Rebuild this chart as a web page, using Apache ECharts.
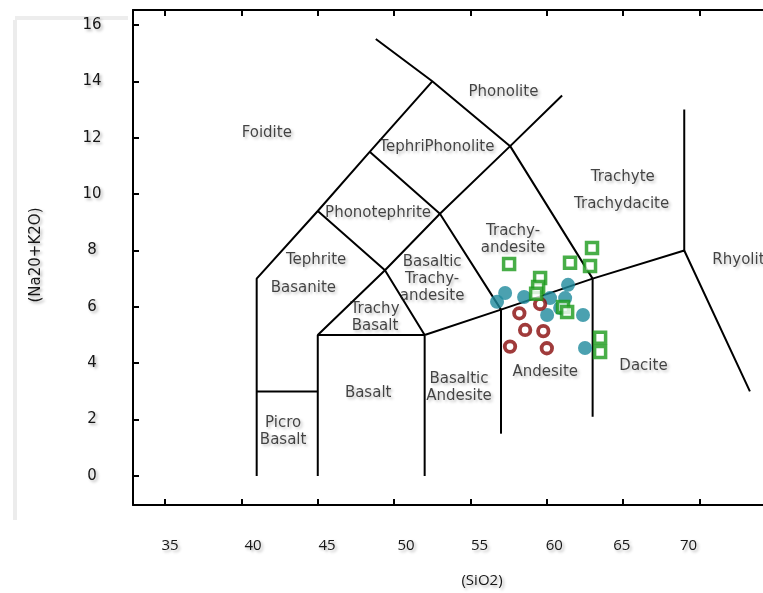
<!DOCTYPE html>
<html>
<head>
<meta charset="utf-8">
<script src="https://cdn.jsdelivr.net/npm/echarts@6/dist/echarts.min.js"></script>
<style>html,body{margin:0;padding:0;background:#fff;}#c{width:763px;height:593px;}</style>
</head>
<body>
<div id="c"></div>
<script>
// ---- data ----
const xTicks = [35, 40, 45, 50, 55, 60, 65, 70, 75];
const yTicks = [0, 2, 4, 6, 8, 10, 12, 14, 16];

// TAS field boundaries (SiO2, Na2O+K2O)
const boundaryLines = [
  [[41, 0], [41, 7], [45, 9.4], [48.4, 11.5], [52.5, 14]],
  [[41, 3], [45, 3]],
  [[45, 0], [45, 5], [52, 5]],
  [[52, 0], [52, 5], [57, 5.9], [63, 7], [69, 8], [73.3, 3]],
  [[57, 1.5], [57, 5.9]],
  [[63, 2.1], [63, 7]],
  [[45, 5], [49.4, 7.3], [53, 9.3], [57.6, 11.7], [61, 13.5]],
  [[45, 9.4], [49.4, 7.3], [52, 5]],
  [[48.4, 11.5], [53, 9.3], [57, 5.9]],
  [[48.8, 15.5], [52.5, 14], [57.6, 11.7], [63, 7]],
  [[69, 8], [69, 13]]
];

const regionNames = ['Foidite', 'Phonolite', 'TephriPhonolite', 'Phonotephrite', 'Tephrite', 'Basanite',
  'Trachy\nBasalt', 'Basaltic\nTrachy-\nandesite', 'Trachy-\nandesite', 'Trachyte', 'Trachydacite',
  'Rhyolite', 'Dacite', 'Andesite', 'Basaltic\nAndesite', 'Basalt', 'Picro\nBasalt'];
const regionX = [41.66, 57.16, 52.8, 48.95, 44.89, 44.06, 48.75, 52.49, 57.79, 64.97, 64.9, 72.85, 66.33, 59.9, 54.25, 48.3, 42.73];
const regionY = [12.18, 13.63, 11.66, 9.34, 7.66, 6.66, 5.6, 6.99, 8.37, 10.6, 9.64, 7.66, 3.9, 3.69, 3.12, 2.95, 1.57];

const redSiO2 = [59.56, 58.20, 58.58, 59.77, 57.59, 60.0];
const redAlk  = [6.10, 5.77, 5.18, 5.14, 4.59, 4.53];

const tealSiO2 = [56.74, 57.27, 58.51, 60.21, 61.39, 61.20, 60.02, 60.87, 62.37, 62.50];
const tealAlk  = [6.18, 6.49, 6.35, 6.31, 6.78, 6.31, 5.71, 5.96, 5.71, 4.54];

const greenSiO2 = [57.53, 59.56, 59.43, 59.30, 61.52, 62.96, 62.83, 61.06, 61.33, 63.49, 63.49];
const greenAlk  = [7.52, 7.02, 6.70, 6.46, 7.56, 8.09, 7.45, 5.99, 5.82, 4.90, 4.40];

// ---- styling ----
const xMin = 32.9, xMax = 78, yMin = -1.03, yMax = 16.53;
const pxPerX = 15.27;
const labelShift = {35: 5, 40: 11.7, 45: 9.3, 50: 12, 55: 9, 60: 7.5, 65: -1.3, 70: -11, 75: 0};
const shadow = {textShadowColor: 'rgba(0,0,0,0.3)', textShadowBlur: 3, textShadowOffsetX: 2, textShadowOffsetY: 2};
const regionFont = 'DejaVu Sans';
const textColor = '#161616';

const rich = {};
xTicks.forEach(v => {
  const s = labelShift[v] || 0;
  rich['o' + v] = Object.assign({
    fontFamily: 'Open Sans', fontSize: 15, color: textColor,
    padding: s >= 0 ? [0, 0, 0, 2 * s] : [0, -2 * s, 0, 0]
  }, shadow);
});

const zip = (a, b) => a.map((v, i) => [v, b[i]]);

const series = [];
boundaryLines.forEach(line => {
  series.push({
    type: 'line', data: line, symbol: 'none', silent: true, z: 2,
    lineStyle: {color: '#000', width: 2}, animation: false
  });
});
series.push({
  type: 'scatter', data: zip(tealSiO2, tealAlk), symbol: 'circle', symbolSize: 14, z: 3,
  itemStyle: {color: '#1e8a9c'}, animation: false
});
series.push({
  type: 'scatter', data: zip(redSiO2, redAlk), symbol: 'circle', symbolSize: 10.5, z: 4,
  itemStyle: {color: '#ffffff', borderColor: '#880a0a', borderWidth: 3.8}, animation: false
});
series.push({
  type: 'scatter', data: zip(greenSiO2, greenAlk), symbol: 'rect', symbolSize: 11, z: 5,
  itemStyle: {color: '#ffffff', borderColor: '#1a9a1a', borderWidth: 3.5}, animation: false
});
series.push({
  type: 'scatter', symbolSize: 1, z: 6, silent: true, animation: false,
  itemStyle: {color: 'rgba(0,0,0,0)'},
  data: regionNames.map((n, i) => ({name: n, value: [regionX[i], regionY[i]]})),
  label: Object.assign({
    show: true, position: 'inside', formatter: p => p.name,
    fontFamily: regionFont, fontSize: 15, color: textColor, lineHeight: 17, align: 'center'
  }, shadow)
});

const chart = echarts.init(document.getElementById('c'), null, {renderer: 'canvas'});
chart.setOption({
  backgroundColor: '#ffffff',
  animation: false,
  grid: {left: 133, top: 10, width: (xMax - xMin) * pxPerX, height: 495, show: false,
    containLabel: false, outerBoundsMode: 'none'},
  xAxis: [{
    type: 'value', min: xMin, max: xMax, position: 'bottom',
    axisLine: {show: true, onZero: false, lineStyle: {color: '#000', width: 2}},
    axisTick: {show: true, inside: true, length: 6, lineStyle: {color: '#000', width: 2}, customValues: xTicks},
    axisLabel: {show: true, margin: 33, customValues: xTicks, formatter: v => '{o' + v + '|' + v + '}', rich: rich},
    splitLine: {show: false}
  }, {
    type: 'value', min: xMin, max: xMax, position: 'top',
    axisLine: {show: true, onZero: false, lineStyle: {color: '#000', width: 2}},
    axisTick: {show: true, inside: true, length: 6, lineStyle: {color: '#000', width: 2}, customValues: xTicks},
    axisLabel: {show: false},
    splitLine: {show: false}
  }],
  yAxis: [{
    type: 'value', min: yMin, max: yMax, position: 'left',
    axisLine: {show: true, onZero: false, lineStyle: {color: '#000', width: 2}},
    axisTick: {show: true, inside: true, length: 6, lineStyle: {color: '#000', width: 2}, customValues: yTicks},
    axisLabel: Object.assign({show: true, customValues: yTicks, margin: 41, align: 'center',
      fontFamily: regionFont, fontSize: 15, color: textColor}, shadow),
    splitLine: {show: false}
  }],
  graphic: [
    {type: 'line', shape: {x1: 15, y1: 20, x2: 15, y2: 520}, style: {stroke: '#ececec', lineWidth: 4}, z: 0},
    {type: 'line', shape: {x1: 15, y1: 18, x2: 128, y2: 18}, style: {stroke: '#ededed', lineWidth: 4}, z: 0},
    {type: 'text', x: 36, y: 255, rotation: Math.PI / 2,
      style: Object.assign({text: '(Na20+K2O)', fontFamily: regionFont, fontSize: 15, fill: textColor,
        textAlign: 'center', textVerticalAlign: 'middle'}, shadow)},
    {type: 'text', x: 482, y: 581,
      style: Object.assign({text: '(SiO2)', fontFamily: 'Open Sans', fontSize: 15, fill: textColor,
        textAlign: 'center', textVerticalAlign: 'middle'}, shadow)}
  ],
  series: series
});
</script>
</body>
</html>
